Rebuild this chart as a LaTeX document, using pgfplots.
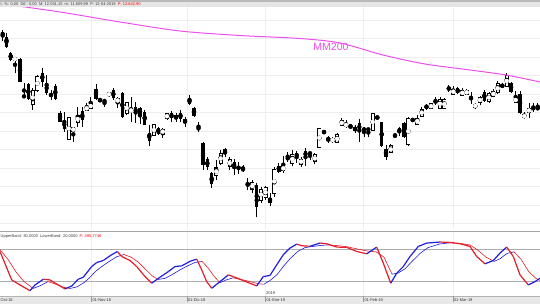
\documentclass[border=0pt]{standalone}
\usepackage{pgfplots}
\pgfplotsset{compat=1.18}
\usepackage{pgfplotstable}
\usepackage{fontspec}
\setmainfont{Liberation Sans}
\definecolor{mm}{RGB}{236,80,236}
\definecolor{kred}{RGB}{228,30,40}
\definecolor{kblue}{RGB}{30,30,225}
\definecolor{gridc}{RGB}{238,238,238}

% candles: x, wick top (h), body top (t), body bottom (b), wick bottom (l) -- vertical screen units
\pgfplotstableread{
x h t b l
2.7 30 32.3 35.7 41
6.5 33 36.7 46.7 48
10.7 51.7 53 60 61
20 58.3 59 81.7 82.3
24 83.3 95.7 97 97.7
28.3 83.3 84.3 99 100
42.3 68 73.3 81.7 86.7
46.7 75 83.3 92.7 95
51 90 94 96 100
55.3 84.3 86 99 100
60 111 113 121.7 122.3
64.3 112 120 129 132
82.3 106.7 111 120 126.7
96 84 89 99 100
100 98.3 99 101 102.3
104.5 99 100 102 106.7
113.3 88 90 98.3 100
122.3 91.7 92.7 117.3 118.3
135.7 101.7 106.7 114 123.3
140 106.7 108.3 115 124
144.7 110 111.7 125 125.5
149.3 125 132.7 140.7 146
158.3 126.7 127.7 134 135
171.5 110.7 112.7 118.3 121.7
176 113.3 115 119.3 121.7
180.5 110 112.7 119.3 121.7
185 116.7 119 123.3 126.7
189.5 95 98.3 104.3 105
194 106.7 108 116 116.7
198.5 121.7 128 128.7 131.7
203 141.7 142.7 165 170
207.3 156.7 159.3 167.3 170
211.7 171.7 173.3 184 188
225 148.3 149.5 154.5 156.7
234.2 159.3 161.7 168.3 175
238.5 161.7 167 168.5 174
243 165 169 169.7 171.7
247.7 178 184 185.5 190
256.7 183.3 185 207.3 217.3
270 193.3 198.3 203.3 206
278.8 163.3 166 171.7 173.3
287.7 151.7 158 158.7 161.7
296.7 150.7 152.7 157.3 163.3
305.5 148.3 150.7 157.3 166
310 151.7 152.8 153.6 160
324 130 131 133.3 134
328.3 136 138.3 139.5 143.3
350.5 124 126 127.5 128.3
355 125 127.7 130.7 132.7
359.3 119.3 123.3 130.7 141.7
364 126.7 129 129.7 137.3
368.3 128.3 129 129.7 136.7
377.3 116 117 117.7 119.3
381.7 121.7 122.3 146 147.3
386 145 149.3 157.3 160
395 133.3 135.5 136.3 137.3
399.3 126.7 128.3 132.7 136
404 121.7 122.7 137.3 138.3
412.7 118.3 119.5 120.3 121.7
426.5 104 106.3 107 110
435.5 97.3 101.3 102 105
448.8 85 88 89 92
457.7 87.3 88.3 93.3 94.3
471 91.7 97.3 99.3 104
484.3 90 91.7 100.7 101.7
502.3 83.3 85.5 86.3 88
511 81.7 83.3 91.7 92.7
520 90.7 94.3 112.7 114
533.3 103.3 108 108.7 111.7
537.7 103.3 108 108.7 110
}\blackc

\pgfplotstableread{
x h t b l
15 56.7 58 60 73
32.7 88.3 90.7 104.3 110
37.3 75 76.7 90 91.7
68.7 116.7 118 139 140
73.3 126.7 128 131 142
77.7 106.7 115.7 122.3 126.7
86.7 103.3 106.7 110 111
90.7 96.7 104 108 109
109 91.7 92.7 95.7 96.7
117.7 96.7 98.3 102.7 108
126.7 101.7 102.7 113.3 115
131 96.7 109.3 111.7 121.7
154 124.3 125 135 136
162.7 128.3 129.3 134 138.3
167 113.3 114 118.3 120
216.3 160 168 175 180
220.7 150 154 163 165
229.7 156.7 160 166 170
252.3 180 182.7 189.3 193.3
261 186.7 189.3 200 203.3
265.5 186 187.3 197.3 200
274.3 167.3 169.3 193.3 197.3
283.3 156 166 170.7 173.3
292.3 150 155 163.3 166
301 157.3 159.3 164 167.3
314.8 153.3 155 161.7 164
319.3 128 128.3 147.3 148.3
332.7 136.7 138.3 141.7 143.3
337.2 133.3 135 142.7 143.3
341.7 118.3 120.7 125 126
346 120 123.3 126.7 128.3
372.7 113 113.3 130.7 131
390.7 144 146 152.7 153.3
408.3 116.7 118.3 144 146
417.3 115 118.3 124 125
421.7 106.7 109.3 116 117.3
431 102.7 104 108.3 109.3
440 97.3 99.3 108.3 109.3
444.3 98 100 108.3 109
453.3 86 89.3 94 95
462.3 88.3 90.7 95 96
466.7 89.3 90.7 94 95
475.3 103.3 104.3 107.3 109.3
480 96 97.3 102.7 105
489 91.7 93.3 101.7 102.7
493.3 89.3 91.7 96 97.3
497.7 80.7 84 92.7 94
506.7 73.3 76 86 86.7
515.7 90.7 97.3 102.7 103.3
524.3 111.7 115 117.3 119.3
529 102.7 108.3 112.7 118.3
}\whitec

% stochastic %K (d: 1 = rising segment, 0 = falling)
\pgfplotstableread{
x v d
0 76.7 0
11.7 23.1 0
20 13.6 0
30 2.8 1
35 13.6 1
43.3 24.4 0
50 23.1 0
58.3 13.6 0
65 6.1 1
71.7 11.7 1
78.3 24.4 1
83.3 28.2 1
91.7 48.3 1
96.7 55.9 1
103.3 59.7 1
110 68.6 1
117.3 76.7 0
121.7 67.2 0
130 59.7 0
136.7 48.3 0
145 29.4 0
151.7 16.9 1
160 28.2 1
168.3 38.8 1
175 48.3 1
181.7 49.6 1
190 58.1 1
196.7 62.3 0
201.7 42 0
206.7 19.9 0
211.7 7.4 1
220 19.9 1
228.3 32.6 0
233.3 29.4 0
243.3 21.8 0
256.7 11.7 1
263.3 29.4 1
270 31.6 1
276.7 51.5 1
283.3 70.5 1
290 83.1 1
296.7 90.7 0
301.7 87.5 0
310 86.6 1
320 92.6 0
326.7 91.3 0
336.7 85.0 0
346.7 84.5 0
356.7 76.7 0
366.7 72.3 1
376.7 85.0 0
383.3 54.7 0
390.7 16.9 1
396.7 35.8 1
403.3 48.3 1
410 67.2 1
418.3 86.2 1
426.7 92.6 1
440 94.5 0
450 93.8 0
460 91.3 0
470 86.2 0
476.7 67.2 0
485 53.4 1
493.3 59.7 1
500 73.7 1
506.7 85.0 0
513.3 67.2 0
520 32.6 0
528.3 13.6 1
535 19.9 1
540 26.3 1
}\kline

% stochastic %D
\pgfplotstableread{
x v d
0 80 0
8 62 0
16 38 0
24 20 0
33 7 1
40 12 1
48 20 0
56 15 0
64 9 0
70 7 1
77 10 1
84 18 1
90 28 1
96 40 1
103 50 1
110 59 1
117 67 1
124 71 0
131 66 0
138 57 0
145 44 0
152 31 0
158 24 1
165 26 1
172 33 1
180 42 1
188 50 1
195 56 1
202 58 0
208 46 0
214 30 0
220 18 1
226 23 1
233 27 0
241 24 0
250 20 0
258 16 0
264 15 1
270 22 1
277 33 1
284 50 1
291 65 1
298 77 1
305 84 1
312 86 1
320 88 1
327 89 0
336 88 0
346 86 0
356 82 0
366 78 0
376 76 0
384 66 0
392 34 1
398 36 1
405 44 1
412 58 1
420 73 1
428 84 1
440 91 1
450 93 0
460 92 0
470 89 0
478 79 0
486 66 0
494 58 1
500 63 1
507 73 1
514 76 0
521 62 0
529 38 0
536 26 0
540 22 0
}\dline

\begin{document}
\begin{tikzpicture}[x=1pt,y=1pt]
\clip (0,0) rectangle (540,304);
\fill[white] (0,0) rectangle (540,304);

% ---------------- main price panel ----------------
\begin{axis}[at={(0pt,297pt)}, anchor=north west, scale only axis,
  width=540pt, height=222pt,
  xmin=0, xmax=540, ymin=7, ymax=229, y dir=reverse,
  axis line style={draw=none}, tick style={draw=none},
  xtick={91.5,187,265.5,363.5,453}, xticklabels={},
  ytick={20,38.5,57,75.5,94,112.5,131,149.5,168,186.5,205,223.5}, yticklabels={},
  xmajorgrids, ymajorgrids, grid style={gridc, line width=0.6pt},
  clip=true]
% wicks
\addplot[black, only marks, mark=none, error bars/.cd, y dir=both, y explicit, error mark=none,
  error bar style={color=black, solid, line width=0.7pt}]
  table[x=x, y expr={(\thisrow{h}+\thisrow{l})/2}, y error expr={(\thisrow{l}-\thisrow{h})/2}] {\blackc};
\addplot[black, only marks, mark=none, error bars/.cd, y dir=both, y explicit, error mark=none,
  error bar style={color=black, solid, line width=0.7pt}]
  table[x=x, y expr={(\thisrow{h}+\thisrow{l})/2}, y error expr={(\thisrow{l}-\thisrow{h})/2}] {\whitec};
% black bodies
\addplot[black, only marks, mark=none, error bars/.cd, y dir=both, y explicit, error mark=none,
  error bar style={color=black, solid, line width=3.4pt}]
  table[x=x, y expr={(\thisrow{t}+\thisrow{b})/2}, y error expr={max((\thisrow{b}-\thisrow{t})/2,0.5)}] {\blackc};
% hollow bodies: outline then white fill
\addplot[black, only marks, mark=none, error bars/.cd, y dir=both, y explicit, error mark=none,
  error bar style={color=black, solid, line width=4pt}]
  table[x=x, y expr={(\thisrow{t}+\thisrow{b})/2}, y error expr={(\thisrow{b}-\thisrow{t})/2+0.6}] {\whitec};
\addplot[white, only marks, mark=none, error bars/.cd, y dir=both, y explicit, error mark=none,
  error bar style={color=white, solid, line width=2.4pt}]
  table[x=x, y expr={(\thisrow{t}+\thisrow{b})/2}, y error expr={max((\thisrow{b}-\thisrow{t})/2-0.25,0.01)}] {\whitec};
% MM200
\addplot[mm, line width=1pt, smooth, mark=none] coordinates {
(0,3.5) (60,12) (120,22) (180,31) (240,35.5) (300,38.5) (340,43) (383,55) (425,64) (470,70) (506,75) (540,82)};
\node[mm, font=\fontsize{10.5}{10.5}\selectfont] at (axis cs:331,46.5) {MM200};
\end{axis}

% ---------------- stochastic panel ----------------
\begin{axis}[at={(0pt,72.3pt)}, anchor=north west, scale only axis,
  width=540pt, height=64.3pt,
  xmin=0, xmax=540, ymin=-7.2, ymax=114,
  axis line style={draw=none}, tick style={draw=none},
  xtick={91.5,187,265.5,363.5,453}, xticklabels={},
  ytick={20,80}, yticklabels={},
  xmajorgrids, ymajorgrids,
  x grid style={gridc, line width=0.6pt}, y grid style={gray!65, line width=0.6pt},
  colormap={rb}{color(0)=(kred) color(1)=(kblue)},
  point meta min=0, point meta max=1,
  clip=true]
\addplot[mesh, shader=flat corner, point meta=\thisrow{d}, line width=0.6pt] table[x=x, y=v] {\dline};
\addplot[mesh, shader=flat corner, point meta=\thisrow{d}, line width=1.2pt] table[x=x, y=v] {\kline};
\end{axis}

% ---------------- frame decorations ----------------
\fill[gray!55] (0,302) rectangle (540,304);
\fill[gray!20] (0,297) rectangle (540,302);
\node[anchor=west, inner sep=0pt, font=\fontsize{4}{4}\selectfont, text=black!75] at (0.5,299.3)
  {t. \%: 0,00 \ Dif.: 0,00 \ M: 12.031,15 \ m: 11.609,99 \ P: 12-04-2019 \ \textcolor{red}{P: 12.642,90}};
\draw[gray!70, line width=0.7pt] (0,72.3) -- (540,72.3);
\node[anchor=west, inner sep=0pt, font=\fontsize{4}{4}\selectfont, text=black!75] at (0.5,68)
  {UpperBand: 80,0000 \ LowerBand: 20,0000 \ \textcolor{red}{P: 495,7746}};
\fill[gray!18] (0,0) rectangle (540,8);
\draw[gray!60, line width=0.5pt] (0,8) -- (540,8);
\foreach \xx/\lab in {91.5/01-Nov-18, 187/01-Dic-18, 265.5/01-Ene-19, 363.5/01-Feb-19, 453/01-Mar-19}{
  \draw[gray!80, line width=0.4pt] (\xx,8) -- (\xx,2);
  \node[anchor=west, inner sep=0pt, font=\fontsize{4}{4}\selectfont, text=black!80] at (\xx+0.8,4) {\lab};
}
\node[anchor=west, inner sep=0pt, font=\fontsize{4}{4}\selectfont, text=black!80] at (0.5,4) {Oct-18};
\node[anchor=west, inner sep=0pt, font=\fontsize{4}{4}\selectfont, text=black!80] at (266,11) {2019};
\end{tikzpicture}
\end{document}
